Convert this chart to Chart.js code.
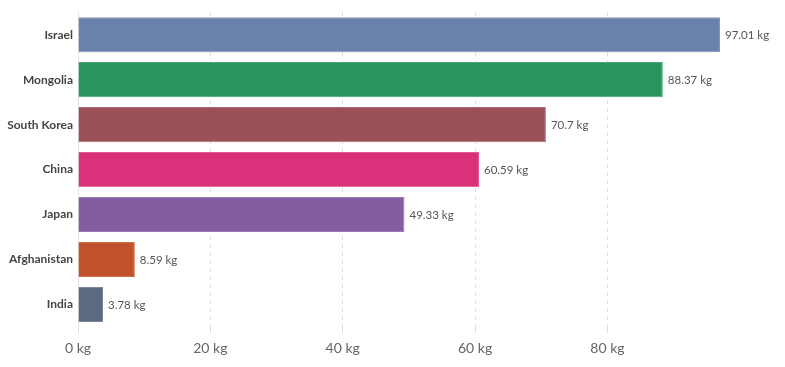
<!DOCTYPE html>
<html>
<head>
<meta charset="utf-8">
<script src="https://cdn.jsdelivr.net/npm/chart.js@4"></script>
<style>
  html, body { margin: 0; padding: 0; background: #fff; }
  #wrap { width: 785px; height: 367px; position: relative; }
</style>
</head>
<body>
<div id="wrap"><canvas id="meatChart"></canvas></div>
<script>
const countries = ['Israel', 'Mongolia', 'South Korea', 'China', 'Japan', 'Afghanistan', 'India'];
const kgPerPerson = [97.01, 88.37, 70.7, 60.59, 49.33, 8.59, 3.78];
const barColors = ['#6981ab', '#27955c', '#9b4f57', '#d9327b', '#845da1', '#c0522b', '#5b6a80'];
const borderColors = ['#8195bb', '#4aa777', '#ad6c73', '#e05a93', '#9a7bb3', '#cc7150', '#7a8799'];
const xTicks = [0, 20, 40, 60, 80];

// writes "xx kg" after the end of each bar
const valueLabels = {
    id: 'valueLabels',
    afterDatasetsDraw(chart) {
        const ctx = chart.ctx;
        const meta = chart.getDatasetMeta(0);
        ctx.save();
        ctx.font = '11.5px Lato';
        ctx.fillStyle = '#555';
        ctx.textBaseline = 'middle';
        ctx.textAlign = 'left';
        meta.data.forEach(function (bar, i) {
            ctx.fillText(kgPerPerson[i] + ' kg', bar.x + 5, bar.y + 1);
        });
        ctx.restore();
    }
};

const ctx = document.getElementById('meatChart').getContext('2d');
const meatChart = new Chart(ctx, {
    type: 'bar',
    data: {
        labels: countries,
        datasets: [{
            data: kgPerPerson,
            backgroundColor: barColors,
            borderColor: borderColors,
            borderWidth: 1,
            barPercentage: 0.78,
            categoryPercentage: 1
        }]
    },
    plugins: [valueLabels],
    options: {
        indexAxis: 'y',
        responsive: true,
        maintainAspectRatio: false,
        animation: false,
        layout: { padding: { top: 12, right: 65, left: 0, bottom: 0 } },
        plugins: {
            legend: { display: false },
            tooltip: { enabled: false }
        },
        scales: {
            x: {
                min: 0,
                max: 97.01,
                afterBuildTicks(axis) {
                    axis.ticks = xTicks.map(v => ({ value: v }));
                },
                afterFit(axis) { axis.height = 40; },
                grid: {
                    color: '#dddddd',
                    drawTicks: true,
                    tickLength: 6,
                    tickColor: '#dddddd'
                },
                border: { display: false, dash: [4, 4] },
                ticks: {
                    font: { family: 'Lato', size: 14 },
                    color: '#666',
                    padding: 7,
                    callback: v => v + ' kg'
                }
            },
            y: {
                afterFit(axis) { axis.width = 78; },
                grid: { display: false, drawTicks: false },
                border: { display: true, color: '#e3e3e3' },
                ticks: {
                    font: { family: 'Lato', size: 12, weight: 'bold' },
                    color: '#444',
                    padding: 5
                }
            }
        }
    }
});
</script>
</body>
</html>
